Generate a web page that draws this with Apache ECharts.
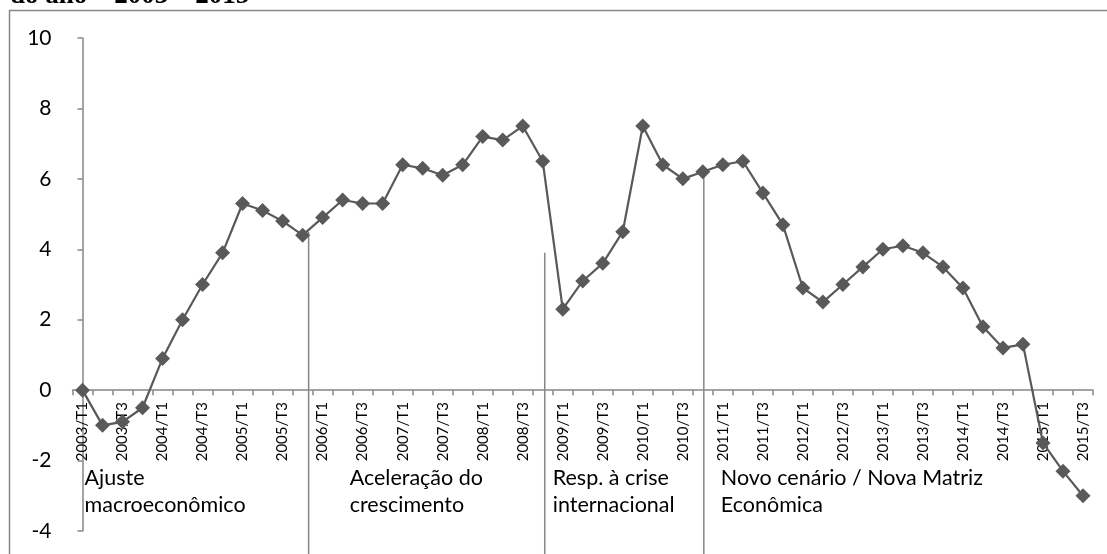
<!DOCTYPE html>
<html lang="pt-BR">
<head>
<meta charset="UTF-8">
<title>PIB trimestral 2003 - 2015</title>
<style>
    html, body { margin: 0; padding: 0; background: #ffffff; }
    #main { width: 1107px; height: 554px; }
</style>
</head>
<body>
<div id="main"></div>
<script src="https://cdn.jsdelivr.net/npm/echarts@6/dist/echarts.min.js"></script>
<script>
    // trimestres (eixo x)
    var quarters = [
        '2003/T1', '2003/T2', '2003/T3', '2003/T4',
        '2004/T1', '2004/T2', '2004/T3', '2004/T4',
        '2005/T1', '2005/T2', '2005/T3', '2005/T4',
        '2006/T1', '2006/T2', '2006/T3', '2006/T4',
        '2007/T1', '2007/T2', '2007/T3', '2007/T4',
        '2008/T1', '2008/T2', '2008/T3', '2008/T4',
        '2009/T1', '2009/T2', '2009/T3', '2009/T4',
        '2010/T1', '2010/T2', '2010/T3', '2010/T4',
        '2011/T1', '2011/T2', '2011/T3', '2011/T4',
        '2012/T1', '2012/T2', '2012/T3', '2012/T4',
        '2013/T1', '2013/T2', '2013/T3', '2013/T4',
        '2014/T1', '2014/T2', '2014/T3', '2014/T4',
        '2015/T1', '2015/T2', '2015/T3'
    ];

    // taxa de crescimento (%)
    var growth = [
        0.0, -1.0, -0.9, -0.5,
        0.9, 2.0, 3.0, 3.9,
        5.3, 5.1, 4.8, 4.4,
        4.9, 5.4, 5.3, 5.3,
        6.4, 6.3, 6.1, 6.4,
        7.2, 7.1, 7.5, 6.5,
        2.3, 3.1, 3.6, 4.5,
        7.5, 6.4, 6.0, 6.2,
        6.4, 6.5, 5.6, 4.7,
        2.9, 2.5, 3.0, 3.5,
        4.0, 4.1, 3.9, 3.5,
        2.9, 1.8, 1.2, 1.3,
        -1.5, -2.3, -3.0
    ];

    var yTicks = { min: -4, max: 10, step: 2 };

    // divisões entre os periodos (posição em trimestres, topo e base da linha)
    var phaseX = [11.3, 23.1, 31.05];
    var phaseTop = [4.5, 3.9, 6.2];
    var phaseBottom = -4.8;

    // nomes dos periodos
    var phaseNames = [
        'Ajuste\nmacroeconômico',
        'Aceleração do\ncrescimento',
        'Resp. à crise\ninternacional',
        'Novo cenário / Nova Matriz\nEconômica'
    ];
    var phaseLabelX = [0.1, 13.35, 23.5, 31.9];
    var phaseLabelY = -2.88;

    var titleText = 'do ano – 2003 – 2015';

    var grey = '#868686';
    var font = 'Lato, "Open Sans", sans-serif';

    var gridTop = 38, gridBottom = 23, chartH = 554;
    // distancia do zero ate a base do grid, para levar os rotulos do eixo x ate o zero
    var zeroOffset = (chartH - gridTop - gridBottom) * (0 - yTicks.min) / (yTicks.max - yTicks.min);

    var myChart = echarts.init(document.getElementById('main'), null, { renderer: 'canvas' });

    var separators = [];
    for (var i = 0; i < phaseX.length; i++) {
        separators.push([phaseX[i], phaseTop[i], phaseBottom]);
    }
    var labels = [];
    for (var j = 0; j < phaseNames.length; j++) {
        labels.push({ value: [phaseLabelX[j], phaseLabelY], name: phaseNames[j] });
    }

    var option = {
        animation: false,
        backgroundColor: '#ffffff',
        textStyle: { fontFamily: font },
        grid: {
            left: 72.5, right: 14, top: gridTop, bottom: gridBottom,
            containLabel: false,
            outerBoundsMode: 'none'
        },
        graphic: [
            {
                type: 'polyline',
                shape: { points: [[9.5, 560], [9.5, 10.5], [1110, 10.5]] },
                style: { stroke: grey, lineWidth: 1.5, fill: null },
                silent: true
            },
            {
                type: 'text',
                left: 10,
                top: -17,
                style: {
                    text: titleText,
                    fill: '#000',
                    font: 'bold 27px "Liberation Serif", "DejaVu Serif", serif'
                },
                silent: true
            }
        ],
        xAxis: [
            {
                type: 'category',
                data: quarters,
                boundaryGap: true,
                axisLine: { onZero: true, lineStyle: { color: grey, width: 1.5 } },
                axisTick: { show: true, interval: 0, length: 5, lineStyle: { color: grey, width: 1.5 } },
                axisLabel: { show: false },
                splitLine: { show: false }
            },
            {
                // eixo auxiliar para posicionar as divisões e os nomes dos periodos
                type: 'value',
                min: -0.5,
                max: quarters.length - 0.5,
                show: false
            },
            {
                // rotulos dos trimestres, na altura do zero
                type: 'category',
                data: quarters,
                position: 'bottom',
                offset: -zeroOffset,
                boundaryGap: true,
                axisLine: { show: false, onZero: false },
                axisTick: { show: false },
                axisLabel: {
                    interval: 1,
                    rotate: 90,
                    margin: 12,
                    color: '#000',
                    fontSize: 15,
                    fontFamily: font
                },
                splitLine: { show: false }
            }
        ],
        yAxis: {
            type: 'value',
            min: yTicks.min,
            max: yTicks.max,
            interval: yTicks.step,
            axisLine: { show: true, lineStyle: { color: grey, width: 1.5 } },
            axisTick: { show: true, length: 5, lineStyle: { color: grey, width: 1.5 } },
            axisLabel: { color: '#000', fontSize: 21, margin: 21, fontFamily: font },
            splitLine: { show: false }
        },
        series: [
            {
                type: 'custom',
                xAxisIndex: 1,
                z: 1,
                silent: true,
                data: separators,
                renderItem: function (params, api) {
                    var top = api.coord([api.value(0), api.value(1)]);
                    var bottom = api.coord([api.value(0), api.value(2)]);
                    return {
                        type: 'line',
                        shape: { x1: top[0], y1: top[1], x2: bottom[0], y2: bottom[1] },
                        style: { stroke: grey, lineWidth: 1.5 }
                    };
                }
            },
            {
                type: 'custom',
                xAxisIndex: 1,
                z: 3,
                silent: true,
                data: labels,
                renderItem: function (params, api) {
                    var p = api.coord([api.value(0), api.value(1)]);
                    return {
                        type: 'text',
                        x: p[0],
                        y: p[1],
                        style: {
                            text: phaseNames[params.dataIndex],
                            fill: '#000',
                            fontSize: 21.5,
                            fontFamily: font,
                            lineHeight: 27,
                            align: 'left',
                            verticalAlign: 'middle'
                        }
                    };
                }
            },
            {
                type: 'line',
                z: 2,
                data: growth,
                symbol: 'diamond',
                symbolSize: 15,
                showAllSymbol: true,
                lineStyle: { color: '#595959', width: 2.2 },
                itemStyle: { color: '#595959' }
            }
        ]
    };

    myChart.setOption(option);
</script>
</body>
</html>
